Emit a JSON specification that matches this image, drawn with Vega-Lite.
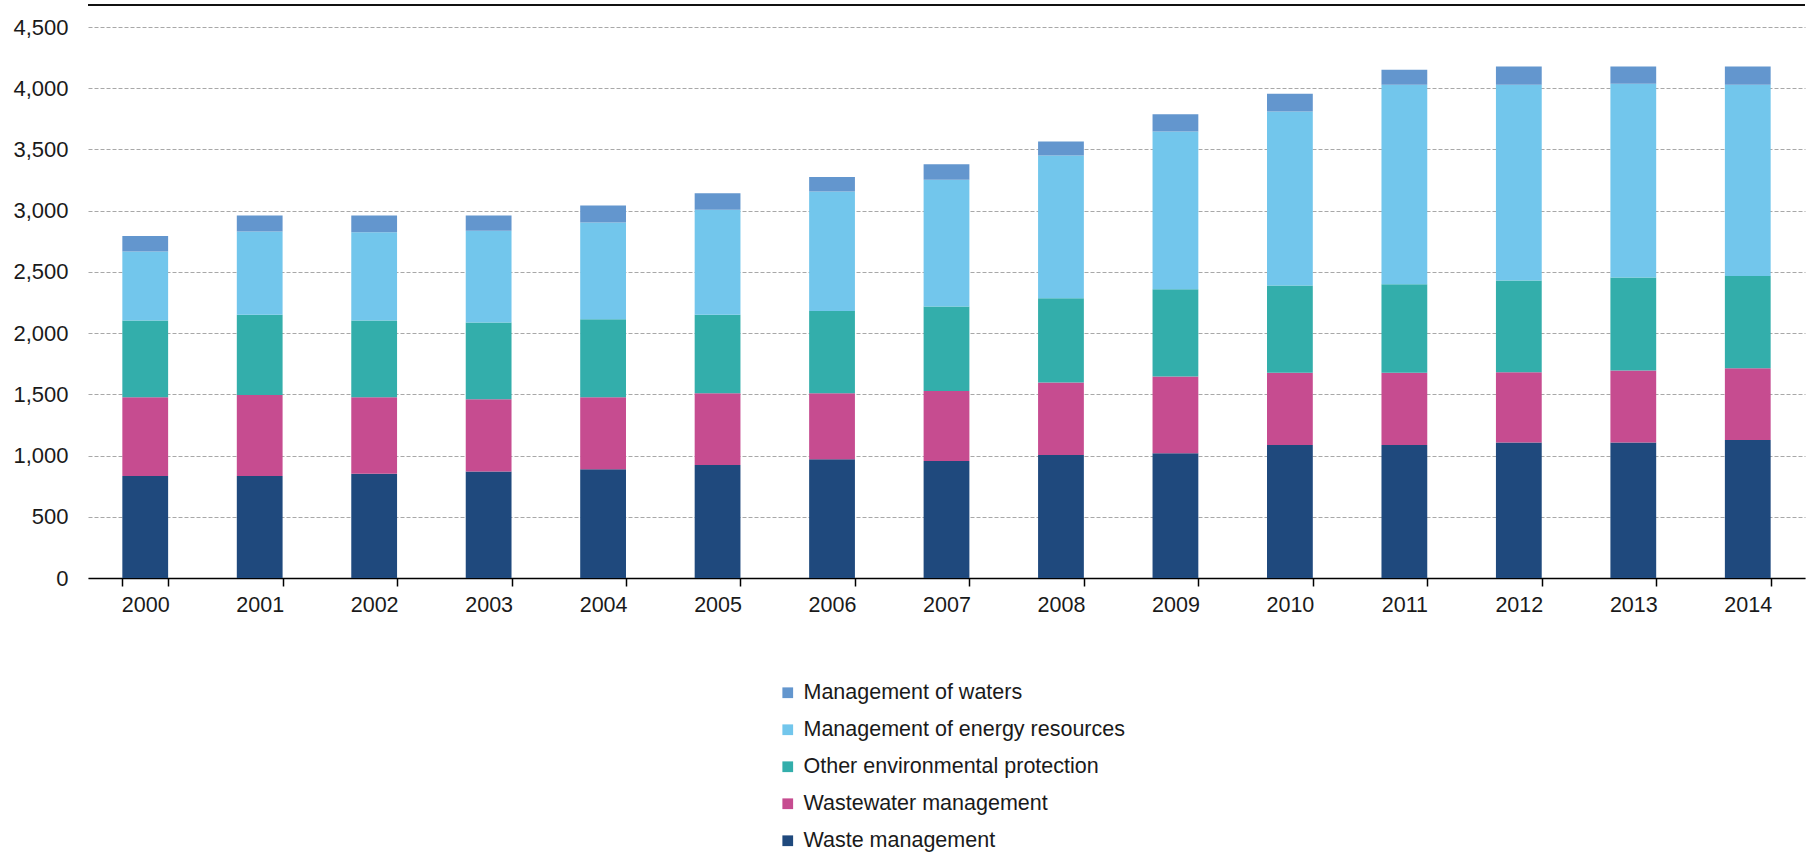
{
  "$schema": "https://vega.github.io/schema/vega-lite/v6.json",
  "width": 1717,
  "height": 551,
  "autosize": {"type": "none"},
  "padding": {"left": 88, "top": 27, "right": 11, "bottom": 275},
  "background": "white",
  "config": {
    "view": {"stroke": null},
    "font": "Liberation Sans"
  },
  "data": {
    "values": [
      {"year": "2000", "series": "Waste management", "value": 833},
      {"year": "2000", "series": "Wastewater management", "value": 643},
      {"year": "2000", "series": "Other environmental protection", "value": 626},
      {"year": "2000", "series": "Management of energy resources", "value": 564},
      {"year": "2000", "series": "Management of waters", "value": 128},
      {"year": "2001", "series": "Waste management", "value": 833},
      {"year": "2001", "series": "Wastewater management", "value": 662},
      {"year": "2001", "series": "Other environmental protection", "value": 654},
      {"year": "2001", "series": "Management of energy resources", "value": 680},
      {"year": "2001", "series": "Management of waters", "value": 131},
      {"year": "2002", "series": "Waste management", "value": 852},
      {"year": "2002", "series": "Wastewater management", "value": 624},
      {"year": "2002", "series": "Other environmental protection", "value": 626},
      {"year": "2002", "series": "Management of energy resources", "value": 722},
      {"year": "2002", "series": "Management of waters", "value": 136},
      {"year": "2003", "series": "Waste management", "value": 869},
      {"year": "2003", "series": "Wastewater management", "value": 591},
      {"year": "2003", "series": "Other environmental protection", "value": 626},
      {"year": "2003", "series": "Management of energy resources", "value": 749},
      {"year": "2003", "series": "Management of waters", "value": 125},
      {"year": "2004", "series": "Waste management", "value": 888},
      {"year": "2004", "series": "Wastewater management", "value": 588},
      {"year": "2004", "series": "Other environmental protection", "value": 637},
      {"year": "2004", "series": "Management of energy resources", "value": 790},
      {"year": "2004", "series": "Management of waters", "value": 139},
      {"year": "2005", "series": "Waste management", "value": 923},
      {"year": "2005", "series": "Wastewater management", "value": 586},
      {"year": "2005", "series": "Other environmental protection", "value": 640},
      {"year": "2005", "series": "Management of energy resources", "value": 858},
      {"year": "2005", "series": "Management of waters", "value": 136},
      {"year": "2006", "series": "Waste management", "value": 970},
      {"year": "2006", "series": "Wastewater management", "value": 539},
      {"year": "2006", "series": "Other environmental protection", "value": 672},
      {"year": "2006", "series": "Management of energy resources", "value": 975},
      {"year": "2006", "series": "Management of waters", "value": 118},
      {"year": "2007", "series": "Waste management", "value": 956},
      {"year": "2007", "series": "Wastewater management", "value": 572},
      {"year": "2007", "series": "Other environmental protection", "value": 689},
      {"year": "2007", "series": "Management of energy resources", "value": 1035},
      {"year": "2007", "series": "Management of waters", "value": 128},
      {"year": "2008", "series": "Waste management", "value": 1005},
      {"year": "2008", "series": "Wastewater management", "value": 591},
      {"year": "2008", "series": "Other environmental protection", "value": 689},
      {"year": "2008", "series": "Management of energy resources", "value": 1165},
      {"year": "2008", "series": "Management of waters", "value": 115},
      {"year": "2009", "series": "Waste management", "value": 1019},
      {"year": "2009", "series": "Wastewater management", "value": 626},
      {"year": "2009", "series": "Other environmental protection", "value": 714},
      {"year": "2009", "series": "Management of energy resources", "value": 1287},
      {"year": "2009", "series": "Management of waters", "value": 142},
      {"year": "2010", "series": "Waste management", "value": 1087},
      {"year": "2010", "series": "Wastewater management", "value": 590},
      {"year": "2010", "series": "Other environmental protection", "value": 711},
      {"year": "2010", "series": "Management of energy resources", "value": 1422},
      {"year": "2010", "series": "Management of waters", "value": 144},
      {"year": "2011", "series": "Waste management", "value": 1087},
      {"year": "2011", "series": "Wastewater management", "value": 590},
      {"year": "2011", "series": "Other environmental protection", "value": 722},
      {"year": "2011", "series": "Management of energy resources", "value": 1629},
      {"year": "2011", "series": "Management of waters", "value": 122},
      {"year": "2012", "series": "Waste management", "value": 1106},
      {"year": "2012", "series": "Wastewater management", "value": 574},
      {"year": "2012", "series": "Other environmental protection", "value": 749},
      {"year": "2012", "series": "Management of energy resources", "value": 1599},
      {"year": "2012", "series": "Management of waters", "value": 149},
      {"year": "2013", "series": "Waste management", "value": 1106},
      {"year": "2013", "series": "Wastewater management", "value": 588},
      {"year": "2013", "series": "Other environmental protection", "value": 760},
      {"year": "2013", "series": "Management of energy resources", "value": 1582},
      {"year": "2013", "series": "Management of waters", "value": 141},
      {"year": "2014", "series": "Waste management", "value": 1127},
      {"year": "2014", "series": "Wastewater management", "value": 586},
      {"year": "2014", "series": "Other environmental protection", "value": 754},
      {"year": "2014", "series": "Management of energy resources", "value": 1561},
      {"year": "2014", "series": "Management of waters", "value": 149}
    ]
  },
  "layer": [
    {
      "transform": [
        {"calculate": "indexof(['Waste management', 'Wastewater management', 'Other environmental protection', 'Management of energy resources', 'Management of waters'], datum.series)", "as": "stackOrder"}
      ],
      "mark": {"type": "bar", "strokeWidth": 0},
      "encoding": {
        "x": {
          "field": "year",
          "type": "ordinal",
          "scale": {"paddingInner": 0.6, "paddingOuter": 0.3},
          "axis": {
            "title": null,
            "labelAngle": 0,
            "tickBand": "extent",
            "ticks": true,
            "tickSize": 8,
            "tickWidth": 1.5,
            "tickColor": "#000000",
            "domainColor": "#000000",
            "domainWidth": 1.5,
            "labelFontSize": 21.5,
            "labelFont": "Liberation Sans",
            "labelColor": "#1a1a1a",
            "labelPadding": 8,
            "grid": false
          }
        },
        "y": {
          "field": "value",
          "type": "quantitative",
          "stack": "zero",
          "scale": {"domain": [0, 4500], "nice": false},
          "axis": {
            "title": null,
            "domain": false,
            "ticks": false,
            "values": [0, 500, 1000, 1500, 2000, 2500, 3000, 3500, 4000, 4500],
            "format": ",.0f",
            "labelFontSize": 22,
            "labelFont": "Liberation Sans",
            "labelColor": "#1a1a1a",
            "labelPadding": 20,
            "grid": true,
            "gridColor": "#A8A8A8",
            "gridDash": [4, 2],
            "gridWidth": 1
          }
        },
        "order": {"field": "stackOrder", "type": "quantitative", "sort": "ascending"},
        "color": {
          "field": "series",
          "type": "nominal",
          "scale": {
            "domain": ["Management of waters", "Management of energy resources", "Other environmental protection", "Wastewater management", "Waste management"],
            "range": ["#6396CE", "#72C6EC", "#33AEAB", "#C64C90", "#1F497D"]
          },
          "legend": {
            "title": null,
            "orient": "none",
            "legendX": 689,
            "legendY": 655,
            "direction": "vertical",
            "symbolType": "square",
            "symbolSize": 115,
            "symbolStrokeWidth": 0,
            "labelFontSize": 21.5,
            "labelFont": "Liberation Sans",
            "labelColor": "#1a1a1a",
            "labelLimit": 600,
            "labelOffset": 5,
            "rowPadding": 14,
            "padding": 0
          }
        }
      }
    },
    {
      "data": {"values": [{"edge": "top"}]},
      "mark": {"type": "rule", "color": "#111111", "strokeWidth": 2},
      "encoding": {"y": {"datum": 4680}}
    }
  ]
}
